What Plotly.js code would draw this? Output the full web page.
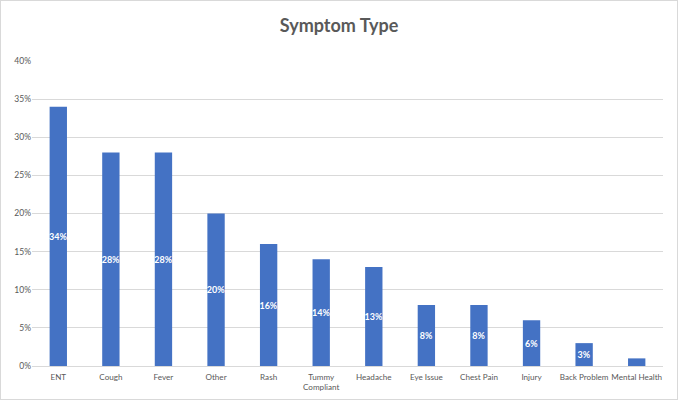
<!DOCTYPE html>
<html>
<head>
<meta charset="utf-8">
<script src="https://cdn.plot.ly/plotly-3.0.1.min.js"></script>
<style>
html,body{margin:0;padding:0;background:#fff;}
#chart{width:676px;height:398px;border:1px solid #d9d9d9;}
</style>
</head>
<body>
<div id="chart"></div>
<script>
const categories = ["ENT","Cough","Fever","Other","Rash","Tummy<br>Compliant","Headache","Eye Issue","Chest Pain","Injury","Back Problem","Mental Health"];
const values = [34,28,28,20,16,14,13,8,8,6,3,1];
const labels = ["34%","28%","28%","20%","16%","14%","13%","8%","8%","6%","3%",""];
const yTickVals = [0,5,10,15,20,25,30,35,40];
const yTickText = ["0%","5%","10%","15%","20%","25%","30%","35%","40%"];

const trace = {
  type: 'bar',
  x: categories,
  y: values,
  text: labels,
  textposition: 'inside',
  insidetextanchor: 'middle',
  textangle: 0,
  constraintext: 'none',
  textfont: {family: 'Lato, "Open Sans", sans-serif', size: 9, color: '#ffffff', weight: 'bold'},
  marker: {color: '#4472C4'},
  hoverinfo: 'none'
};

const layout = {
  width: 676, height: 398,
  margin: {l: 31, r: 14, t: 60, b: 33},
  paper_bgcolor: '#ffffff',
  plot_bgcolor: '#ffffff',
  bargap: 0.67,
  showlegend: false,
  title: {
    text: '<b>Symptom Type</b>',
    font: {family: 'Lato, "Open Sans", sans-serif', size: 18, color: '#595959'},
    x: 0.5, xanchor: 'center', y: 0.938, yanchor: 'middle'
  },
  font: {family: 'Lato, "Open Sans", sans-serif', size: 8.5, color: '#595959'},
  xaxis: {
    type: 'category',
    showgrid: false,
    showline: true,
    linecolor: '#d9d9d9',
    linewidth: 1,
    ticks: '',
    tickangle: 0,
    ticklabelstandoff: 3,
    tickfont: {size: 8.1, color: '#595959'}
  },
  yaxis: {
    range: [0, 40],
    tickvals: yTickVals,
    ticktext: yTickText,
    showgrid: true,
    gridcolor: '#d9d9d9',
    gridwidth: 1,
    zeroline: false,
    showline: false,
    ticks: '',
    tickfont: {size: 8.5, color: '#595959'}
  }
};

Plotly.newPlot('chart', [trace], layout, {displayModeBar: false, staticPlot: true});
</script>
</body>
</html>
